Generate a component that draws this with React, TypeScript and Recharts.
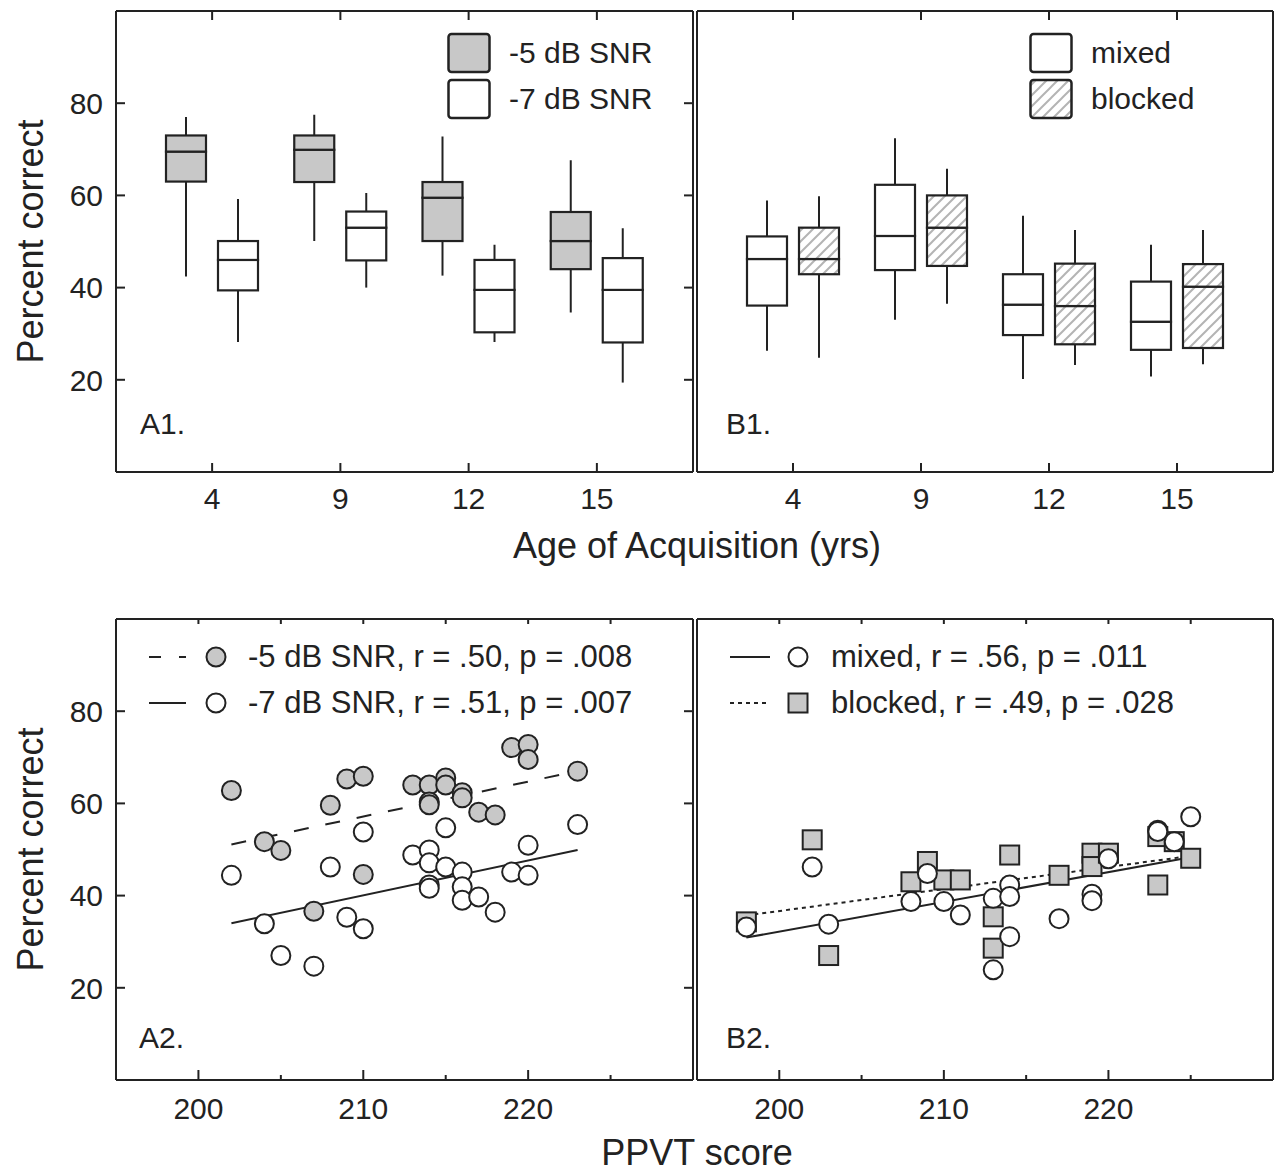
import React from 'react';
import { ComposedChart, ScatterChart, Bar, Scatter, XAxis, YAxis, Legend, CartesianGrid } from 'recharts';

const FONT = '"Liberation Sans", Arial, Helvetica, sans-serif';
const INK = '#222';
const GRAY = '#c8c8c8';

// top row: age of acquisition groups
const ages = ['4', '9', '12', '15'];
const pctTicks = [20, 40, 60, 80];

// box stats per age group: [min, q1, median, q3, max]
const snr5Box = [
  [42.4, 63.0, 69.5, 73.0, 77.0],
  [50.1, 62.9, 69.9, 73.0, 77.5],
  [42.6, 50.1, 59.5, 62.9, 72.8],
  [34.6, 44.0, 50.1, 56.4, 67.6],
];
const snr7Box = [
  [28.2, 39.4, 46.0, 50.1, 59.2],
  [40.0, 45.9, 53.0, 56.5, 60.5],
  [28.2, 30.3, 39.5, 46.0, 49.3],
  [19.4, 28.1, 39.5, 46.4, 52.9],
];
const mixedBox = [
  [26.3, 36.1, 46.2, 51.1, 58.9],
  [33.0, 43.8, 51.2, 62.3, 72.4],
  [20.2, 29.7, 36.3, 42.9, 55.6],
  [20.7, 26.5, 32.6, 41.3, 49.3],
];
const blockedBox = [
  [24.8, 42.9, 46.2, 53.0, 59.8],
  [36.5, 44.7, 53.0, 60.0, 65.8],
  [23.2, 27.7, 36.0, 45.2, 52.5],
  [23.4, 26.9, 40.2, 45.1, 52.5],
];

// bottom row: PPVT score vs percent correct
const ppvtTicks = [200, 205, 210, 215, 220, 225];
const snr5Ppvt = [202, 204, 205, 207, 208, 209, 210, 210, 213, 214, 214, 214, 215, 215, 216, 216, 217, 218, 219, 220, 220, 223];
const snr5Pct = [62.8, 51.7, 49.8, 36.6, 59.6, 65.3, 65.9, 44.6, 64.0, 64.0, 60.3, 59.7, 65.5, 64.0, 62.3, 61.2, 58.1, 57.5, 72.1, 72.8, 69.5, 67.0];
const snr7Ppvt = [202, 204, 205, 207, 208, 209, 210, 210, 213, 214, 214, 214, 214, 215, 215, 216, 216, 216, 217, 218, 219, 220, 220, 223];
const snr7Pct = [44.4, 33.9, 27.0, 24.7, 46.2, 35.3, 32.8, 53.8, 48.8, 49.9, 47.1, 42.3, 41.6, 54.7, 46.2, 45.1, 41.9, 39.0, 39.7, 36.4, 45.1, 50.9, 44.4, 55.4];
const mixedPpvt = [198, 202, 203, 208, 209, 210, 211, 213, 213, 214, 214, 214, 217, 219, 219, 220, 223, 223, 224, 225];
const mixedPct = [33.2, 46.2, 33.8, 38.7, 44.8, 38.7, 35.8, 39.4, 23.9, 42.3, 39.8, 31.1, 35.0, 40.3, 38.9, 48.0, 54.2, 53.9, 51.7, 57.1];
const blockedPpvt = [198, 202, 203, 208, 209, 210, 211, 213, 213, 214, 217, 219, 219, 220, 223, 223, 224, 225];
const blockedPct = [34.3, 52.1, 27.0, 43.0, 47.4, 43.4, 43.4, 35.4, 28.6, 48.8, 44.4, 49.2, 46.3, 49.2, 52.8, 42.3, 51.7, 48.1];

// regression lines, end points [ppvt, pct]
const snr5Fit = [[202, 51.1], [223, 67.0]];
const snr7Fit = [[202, 34.0], [223, 49.9]];
const mixedFit = [[198, 30.9], [225, 48.3]];
const blockedFit = [[198, 35.7], [225, 48.6]];

const frame = { stroke: INK, strokeWidth: 2 };

const Nothing = () => <g />;

const Whisker = (p: any) => {
  const cx = p.x + p.width / 2;
  return <line x1={cx} x2={cx} y1={p.y} y2={p.y + p.height} stroke={INK} strokeWidth={2} />;
};

const makeBox = (fill: string) => (p: any) => (
  <rect x={p.x} y={p.y} width={p.width} height={p.height} fill={fill} stroke={INK} strokeWidth={2.2} />
);

const markerShape = (kind: string, fill: string) => (p: any) =>
  kind === 'square' ? (
    <rect x={p.cx - 9.5} y={p.cy - 9.5} width={19} height={19} fill={fill} stroke={INK} strokeWidth={2} />
  ) : (
    <circle cx={p.cx} cy={p.cy} r={9.5} fill={fill} stroke={INK} strokeWidth={2} />
  );

// frame of the plot area, from the chart's own offset
const edgesH = ({ offset }: any) => [offset.top, offset.top + offset.height];
const edgesV = ({ offset }: any) => [offset.left, offset.left + offset.width];

// y tick: inward marks on both sides plus optional label
const yTick = (margin: number, labelled: boolean, span: number) => (p: any) => {
  const edge = p.x + margin;
  return (
    <g>
      <line x1={edge} x2={edge + 9} y1={p.y} y2={p.y} stroke={INK} strokeWidth={2} />
      <line x1={edge + span - 9} x2={edge + span} y1={p.y} y2={p.y} stroke={INK} strokeWidth={2} />
      {labelled && (
        <text x={p.x} y={p.y} dy="0.36em" textAnchor="end" fontSize={30} fontFamily={FONT} fill={INK}>
          {p.payload.value}
        </text>
      )}
    </g>
  );
};

// x tick: inward marks on bottom and top plus label on major ticks
const xTick = (margin: number, len: number, topLen: number, span: number, isMajor: (v: any) => boolean) => (p: any) => {
  const edge = p.y - margin;
  const major = isMajor(p.payload.value);
  return (
    <g>
      <line x1={p.x} x2={p.x} y1={edge} y2={edge - (major ? len : len / 2)} stroke={INK} strokeWidth={2} />
      <line x1={p.x} x2={p.x} y1={edge - span} y2={edge - span + topLen} stroke={INK} strokeWidth={2} />
      {major && (
        <text x={p.x} y={p.y} dy="0.72em" textAnchor="middle" fontSize={30} fontFamily={FONT} fill={INK}>
          {p.payload.value}
        </text>
      )}
    </g>
  );
};

type BoxSeries = { name: string; stats: number[][]; fill: string };

const BoxLegend = ({ series }: { series: BoxSeries[] }) => (
  <div style={{ fontFamily: FONT, fontSize: 30, color: INK }}>
    {series.map((s) => (
      <div key={s.name} style={{ display: 'flex', alignItems: 'center', height: 46 }}>
        <svg width={62} height={46}>
          <rect x={1.5} y={4} width={41} height={38} rx={3} fill={s.fill} stroke={INK} strokeWidth={2.5} />
        </svg>
        <span style={{ whiteSpace: 'nowrap' }}>{s.name}</span>
      </div>
    ))}
  </div>
);

const BOX_H = 530;
const BOX_TOP = 11;
const BOX_XH = 58;

function BoxPanel(props: {
  series: BoxSeries[];
  width: number;
  mLeft: number;
  mRight: number;
  yWidth: number;
  labelled: boolean;
  legendLeft: number;
}) {
  const { series, width, mLeft, mRight, yWidth, labelled, legendLeft } = props;
  const plotW = width - mLeft - mRight - yWidth;
  const plotH = BOX_H - BOX_TOP - BOX_XH;
  const rows = ages.map((age, i) => {
    const row: Record<string, any> = { age };
    series.forEach((s, k) => {
      const [mn, q1, md, q3, mx] = s.stats[i];
      row[`s${k}_0`] = mn;
      row[`s${k}_1`] = q1 - mn;
      row[`s${k}_2`] = md - q1;
      row[`s${k}_3`] = q3 - md;
      row[`s${k}_4`] = mx - q3;
    });
    return row;
  });
  return (
    <ComposedChart
      width={width}
      height={BOX_H}
      data={rows}
      margin={{ top: BOX_TOP, right: mRight, bottom: 0, left: mLeft }}
      barSize={40}
      barGap={12}
    >
      <CartesianGrid xAxisId="b" yAxisId="l" stroke={INK} strokeWidth={2}
        horizontalCoordinatesGenerator={edgesH} verticalCoordinatesGenerator={edgesV} />
      <XAxis xAxisId="b" dataKey="age" padding={{ left: 32, right: 32 }} height={BOX_XH} interval={0} tickSize={0}
        tickMargin={15} tickLine={false} axisLine={frame} tick={xTick(15, 9, 9, plotH, () => true)} />
      <YAxis yAxisId="l" type="number" domain={[0, 100]} ticks={pctTicks} interval={0} allowDataOverflow
        width={yWidth} tickSize={0} tickMargin={13} tickLine={false} axisLine={frame}
        tick={yTick(13, labelled, plotW)}
        label={labelled ? { value: 'Percent correct', angle: -90, position: 'center', dx: -28, fontSize: 36, fill: INK, fontFamily: FONT } : undefined}
      />
      {series.map((s, k) =>
        [Nothing, Whisker, makeBox(s.fill), makeBox(s.fill), Whisker].map((shape, j) => (
          <Bar key={`s${k}_${j}`} xAxisId="b" yAxisId="l" dataKey={`s${k}_${j}`} stackId={`s${k}`}
            shape={shape} isAnimationActive={false} legendType="none" />
        ))
      )}
      <Legend layout="vertical" align="center" verticalAlign="middle"
        wrapperStyle={{ top: 30, left: legendLeft, width: 260, bottom: 'auto', right: 'auto' }}
        content={() => <BoxLegend series={series} />} />
    </ComposedChart>
  );
}

type PointSeries = { name: string; xs: number[]; ys: number[]; kind: string; fill: string };
type FitLine = { ends: number[][]; dash?: string };
type LegendItem = { label: string; dash?: string; kind: string; fill: string };

const LineLegend = ({ items, lineW, markerX, textX }: { items: LegendItem[]; lineW: number; markerX: number; textX: number }) => (
  <div style={{ fontFamily: FONT, fontSize: 31, color: INK }}>
    {items.map((it) => (
      <div key={it.label} style={{ display: 'flex', alignItems: 'center', height: 46 }}>
        <svg width={textX} height={46}>
          <line x1={0} x2={lineW} y1={23} y2={23} stroke={INK} strokeWidth={2} strokeDasharray={it.dash} />
          {markerShape(it.kind, it.fill)({ cx: markerX, cy: 23 })}
        </svg>
        <span style={{ whiteSpace: 'nowrap' }}>{it.label}</span>
      </div>
    ))}
  </div>
);

const SC_H = 540;
const SC_TOP = 19;
const SC_XH = 60;

function ScatterPanel(props: {
  width: number;
  mLeft: number;
  mRight: number;
  yWidth: number;
  labelled: boolean;
  points: PointSeries[];
  fits: FitLine[];
  legend: LegendItem[];
  legendLeft: number;
  lineW: number;
  markerX: number;
  textX: number;
}) {
  const { width, mLeft, mRight, yWidth, labelled, points, fits, legend, legendLeft, lineW, markerX, textX } = props;
  const plotW = width - mLeft - mRight - yWidth;
  const plotH = SC_H - SC_TOP - SC_XH;
  return (
    <ScatterChart width={width} height={SC_H} margin={{ top: SC_TOP, right: mRight, bottom: 0, left: mLeft }}>
      <CartesianGrid xAxisId="b" yAxisId="l" stroke={INK} strokeWidth={2}
        horizontalCoordinatesGenerator={edgesH} verticalCoordinatesGenerator={edgesV} />
      <XAxis xAxisId="b" type="number" dataKey="x" domain={[195, 230]} ticks={ppvtTicks} interval={0}
        allowDataOverflow height={SC_XH} tickSize={0} tickMargin={17} tickLine={false} axisLine={frame}
        tick={xTick(17, 10, 5, plotH, (v) => Number(v) % 10 === 0)} />
      <YAxis yAxisId="l" type="number" dataKey="y" domain={[0, 100]} ticks={pctTicks} interval={0} allowDataOverflow
        width={yWidth} tickSize={0} tickMargin={13} tickLine={false} axisLine={frame}
        tick={yTick(13, labelled, plotW)}
        label={labelled ? { value: 'Percent correct', angle: -90, position: 'center', dx: -28, fontSize: 36, fill: INK, fontFamily: FONT } : undefined}
      />
      {fits.map((f, i) => (
        <Scatter key={`fit${i}`} xAxisId="b" yAxisId="l" data={f.ends.map(([x, y]) => ({ x, y }))}
          line={{ stroke: INK, strokeWidth: 2, strokeDasharray: f.dash }} shape={Nothing}
          isAnimationActive={false} legendType="none" />
      ))}
      {points.map((s) => (
        <Scatter key={s.name} name={s.name} xAxisId="b" yAxisId="l" data={s.xs.map((x, i) => ({ x, y: s.ys[i] }))}
          shape={markerShape(s.kind, s.fill)} isAnimationActive={false} />
      ))}
      <Legend layout="vertical" align="center" verticalAlign="middle"
        wrapperStyle={{ top: 34, left: legendLeft, width: 520, bottom: 'auto', right: 'auto' }}
        content={() => <LineLegend items={legend} lineW={lineW} markerX={markerX} textX={textX} />} />
    </ScatterChart>
  );
}

const panelLabels = [
  { text: 'A1.', x: 140, y: 434 },
  { text: 'B1.', x: 726, y: 434 },
  { text: 'A2.', x: 139, y: 1048 },
  { text: 'B2.', x: 726, y: 1048 },
];

export default function App() {
  return (
    <div style={{ position: 'absolute', left: 0, top: 0, width: 1279, height: 1173, background: '#fff', overflow: 'hidden' }}>
      <svg width={0} height={0} style={{ position: 'absolute' }}>
        <defs>
          <pattern id="hatch" patternUnits="userSpaceOnUse" width={11} height={11}>
            <rect width={11} height={11} fill="#fff" />
            <path d="M-3,3 L3,-3 M0,11 L11,0 M8,14 L14,8" stroke="#b4b4b4" strokeWidth={2} />
          </pattern>
        </defs>
      </svg>
      <div style={{ position: 'absolute', left: 0, top: 0 }}>
        <BoxPanel
          series={[
            { name: '-5 dB SNR', stats: snr5Box, fill: GRAY },
            { name: '-7 dB SNR', stats: snr7Box, fill: '#fff' },
          ]}
          width={700} mLeft={0} mRight={7} yWidth={116} labelled legendLeft={447}
        />
      </div>
      <div style={{ position: 'absolute', left: 690, top: 0 }}>
        <BoxPanel
          series={[
            { name: 'mixed', stats: mixedBox, fill: '#fff' },
            { name: 'blocked', stats: blockedBox, fill: 'url(#hatch)' },
          ]}
          width={589} mLeft={7} mRight={6} yWidth={0} labelled={false} legendLeft={339}
        />
      </div>
      <div style={{ position: 'absolute', left: 0, top: 600 }}>
        <ScatterPanel
          width={700} mLeft={0} mRight={7} yWidth={116} labelled
          fits={[{ ends: snr5Fit, dash: '15 17' }, { ends: snr7Fit }]}
          points={[
            { name: '-5 dB SNR', xs: snr5Ppvt, ys: snr5Pct, kind: 'circle', fill: GRAY },
            { name: '-7 dB SNR', xs: snr7Ppvt, ys: snr7Pct, kind: 'circle', fill: '#fff' },
          ]}
          legend={[
            { label: '-5 dB SNR, r = .50, p = .008', dash: '12 18', kind: 'circle', fill: GRAY },
            { label: '-7 dB SNR, r = .51, p = .007', kind: 'circle', fill: '#fff' },
          ]}
          legendLeft={149} lineW={37} markerX={67} textX={99}
        />
      </div>
      <div style={{ position: 'absolute', left: 690, top: 600 }}>
        <ScatterPanel
          width={589} mLeft={7} mRight={6} yWidth={0} labelled={false}
          fits={[{ ends: mixedFit }, { ends: blockedFit, dash: '4 4' }]}
          points={[
            { name: 'blocked', xs: blockedPpvt, ys: blockedPct, kind: 'square', fill: GRAY },
            { name: 'mixed', xs: mixedPpvt, ys: mixedPct, kind: 'circle', fill: '#fff' },
          ]}
          legend={[
            { label: 'mixed, r = .56, p = .011', kind: 'circle', fill: '#fff' },
            { label: 'blocked, r = .49, p = .028', dash: '4 4', kind: 'square', fill: GRAY },
          ]}
          legendLeft={40} lineW={40} markerX={68} textX={101}
        />
      </div>
      <svg width={1279} height={1173} style={{ position: 'absolute', left: 0, top: 0, pointerEvents: 'none' }}
        fontFamily={FONT} fill={INK}>
        <text x={697} y={558} textAnchor="middle" fontSize={36}>Age of Acquisition (yrs)</text>
        <text x={697} y={1165} textAnchor="middle" fontSize={36}>PPVT score</text>
        {panelLabels.map((l) => (
          <text key={l.text} x={l.x} y={l.y} fontSize={30}>{l.text}</text>
        ))}
      </svg>
    </div>
  );
}
